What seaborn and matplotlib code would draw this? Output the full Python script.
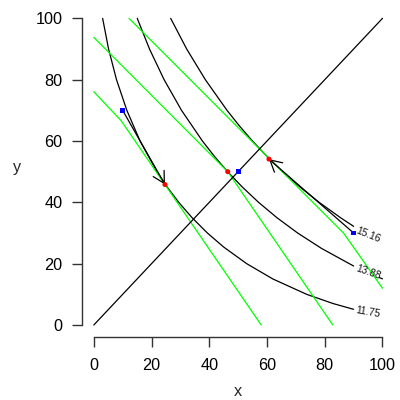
import numpy as np
import matplotlib
matplotlib.use('Agg')
import matplotlib.pyplot as plt
import seaborn as sns

# indifference curves, level -> (x, y)
curve_levels = ['15.16', '13.88', '11.75']
curve_x = {
    '11.75': [3.06, 5.12, 7.87, 11.45, 16.03, 21.89, 25.42, 29.43, 34.04, 39.35,
              45.00, 52.97, 62.05, 73.75, 82.89, 90.00, 100.0],
    '13.88': [15.05, 19.30, 24.36, 30.39, 37.63, 41.78, 46.36, 51.44, 57.08, 63.43,
              70.61, 78.85, 88.51, 90.00, 98.9, 100.0],
    '15.16': [26.63, 32.18, 38.64, 46.15, 50.38, 54.97, 59.97, 65.43, 71.44, 78.06,
              85.45, 90.00, 100.0],
}
curve_y = {
    '11.75': [100, 90, 80, 70, 60, 50, 45, 40, 35, 30,
              25.42, 20, 15, 10, 7, 5.12, 3.06],
    '13.88': [100, 90, 80, 70, 60, 55, 50, 45, 40, 35,
              30, 25, 20, 19.25, 15.48, 15.05],
    '15.16': [100, 90, 80, 70, 65, 60, 55, 50, 45, 40,
              35, 32.18, 26.63],
}
# where the line restarts after its label
label_gap_end = {'15.16': 100.0, '13.88': 98.9, '11.75': 100.0}
label_rot = {'15.16': -22, '13.88': -19, '11.75': -10}

# budget lines (green)
budget_x = [[0, 9.5, 58.0], [0, 46.4, 82.8], [12.2, 86.5, 100.0]]
budget_y = [[76.1, 66.6, 0], [93.8, 50.0, 0], [100.0, 30.0, 12.0]]

# diagonal
diag_x = [0, 100]
diag_y = [0, 100]

# start points (blue) and optima (red)
start_x = [10, 50, 90]
start_y = [70, 50, 30]
opt_x = [24.66, 46.4, 60.67]
opt_y = [45.8, 50.0, 54.1]
arrow_pairs = [0, 2]

sns.set_style('white')
plt.rcParams['font.family'] = ['Liberation Sans', 'DejaVu Sans']

fig = plt.figure(figsize=(4, 4), dpi=100)
ax = fig.add_axes([0.2056, 0.1568, 0.7795, 0.828])

# indifference curves, broken where the label sits
for lev in curve_levels:
    xs = np.array(curve_x[lev])
    ys = np.array(curve_y[lev])
    head = xs <= 90.0
    tail = xs >= label_gap_end[lev]
    sns.lineplot(x=xs[head], y=ys[head], sort=False, estimator=None,
                 color='black', linewidth=0.9, ax=ax)
    if tail.sum() > 1:
        sns.lineplot(x=xs[tail], y=ys[tail], sort=False, estimator=None,
                     color='black', linewidth=0.9, ax=ax)
    ly = np.interp(95.0, xs, ys)
    ax.text(95.0, ly, lev, fontsize=7.4, color='#111111',
            rotation=label_rot[lev], ha='center', va='center',
            rotation_mode='anchor')

for bx, by in zip(budget_x, budget_y):
    sns.lineplot(x=bx, y=by, sort=False, estimator=None,
                 color='#00ff00', linewidth=0.9, ax=ax)

sns.lineplot(x=diag_x, y=diag_y, sort=False, estimator=None,
             color='black', linewidth=0.9, ax=ax)

for i in arrow_pairs:
    ax.annotate('', xy=(opt_x[i], opt_y[i]), xytext=(start_x[i], start_y[i]),
                arrowprops=dict(arrowstyle='->,head_length=0.55,head_width=0.3',
                                lw=0.9, color='black', shrinkA=0, shrinkB=0,
                                mutation_scale=15))

sns.scatterplot(x=start_x, y=start_y, marker='s', s=12, color='#0000ff',
                edgecolor='none', zorder=5, ax=ax)
sns.scatterplot(x=opt_x, y=opt_y, marker='o', s=13, color='#ff0000',
                edgecolor='none', zorder=5, ax=ax)

ax.set_xlim(-4, 104)
ax.set_ylim(-4, 104)
ticks = [0, 20, 40, 60, 80, 100]
ax.set_xticks(ticks)
ax.set_yticks(ticks)
ax.set_xticklabels([str(t) for t in ticks])
ax.set_yticklabels([str(t) for t in ticks])

for side in ['top', 'right']:
    ax.spines[side].set_visible(False)
for side in ['left', 'bottom']:
    ax.spines[side].set_color('#333333')
    ax.spines[side].set_linewidth(1.0)
    ax.spines[side].set_bounds(0, 100)

ax.tick_params(axis='both', which='major', bottom=True, left=True,
               direction='out', length=7.2, width=1.0, color='#333333',
               labelsize=11.7, labelcolor='black')
ax.tick_params(axis='x', pad=7.9)
ax.tick_params(axis='y', pad=7.0)
ax.grid(False)

ax.set_xlabel('x', fontsize=11.7, va='baseline')
ax.xaxis.set_label_coords(0.5, -0.177)
ax.set_ylabel('y', fontsize=11.7, rotation=0, va='baseline', ha='center')
ax.yaxis.set_label_coords(-0.2077, 0.499)

fig.savefig('out.png', dpi=100)
